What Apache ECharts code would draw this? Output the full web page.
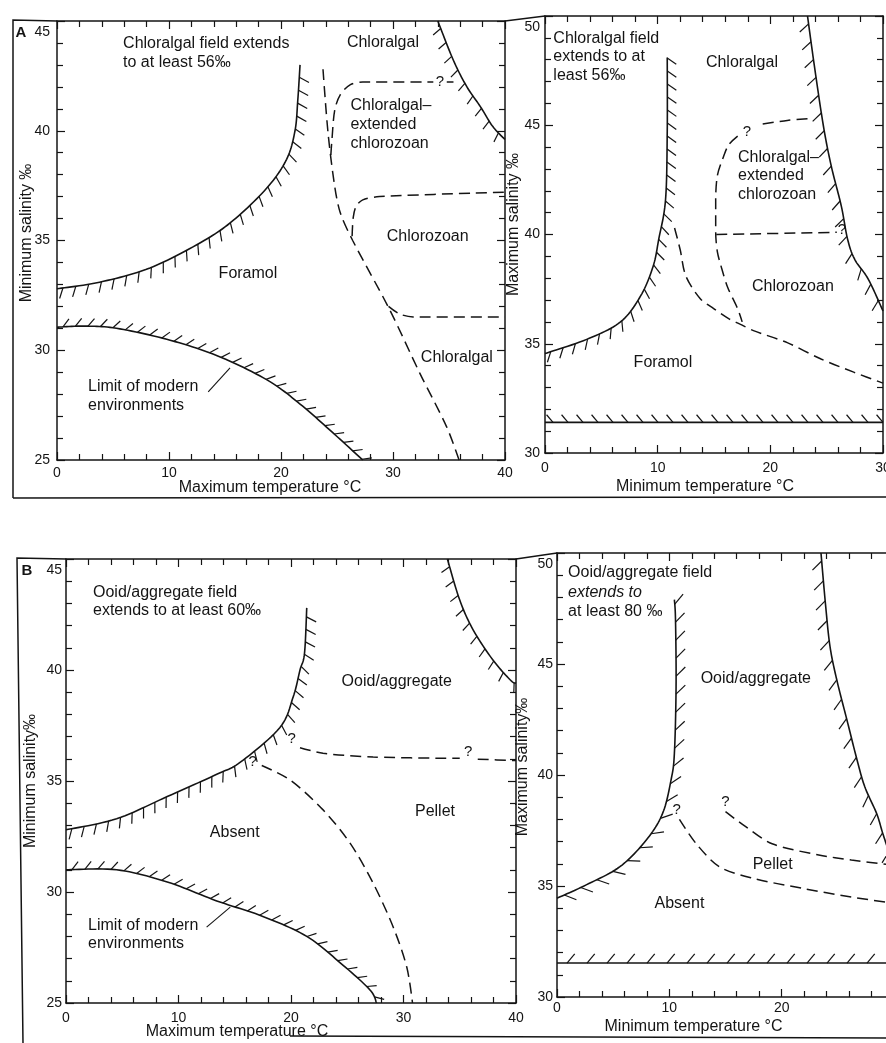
<!DOCTYPE html>
<html><head><meta charset="utf-8">
<script src="https://cdn.jsdelivr.net/npm/echarts@6/dist/echarts.min.js"></script>
<style>html,body{margin:0;padding:0;background:#fff}#c{width:886px;height:1043px}</style>
</head><body><div id="c"></div>
<script>
// ---------- axis ranges / tick labels ----------
const tempRangeL = [0, 40];
const tempRangeR = [0, 30];
const salRangeL = [25, 45];
const salRangeR = [30, 50];

// ---------- Panel A, left (max temperature vs min salinity) ----------
const aL_foramolLimit = [[0,32.8],[3.8,33.1],[8.3,33.75],[12.8,34.9],[15.7,35.9],[18.75,37.4],[20.5,38.7],[21.25,40.0],[21.5,41.4],[21.7,43.0]];
const aL_modernLimit = [[0,31.05],[2.5,31.1],[5.3,31.0],[9.8,30.5],[14.3,29.75],[18.75,28.65],[21.7,27.55],[24.5,26.3],[27.3,25.0]];
const aL_upperLimit = [[34.0,45],[35.4,43.2],[36.6,42.0],[37.8,41.1],[38.9,40.2],[40,39.6]];
const aL_dashMain = [[23.75,42.8],[24.2,39.9],[24.8,37.45],[25.3,36.25],[26.4,35.0],[29.7,31.85],[32.4,28.95],[34.8,26.5],[35.9,25.0]];
const aL_dashExtended = [[24.45,38.9],[24.55,39.6],[24.8,40.95],[25.3,41.65],[26.2,42.1],[27.3,42.22],[33.6,42.22]];
const aL_dashExtendedEnd = [[34.8,42.22],[35.4,42.22]];
const aL_dashChlorozoan = [[26.35,35.2],[26.45,36.05],[26.7,36.55],[27.3,36.85],[28.8,37.0],[40,37.2]];
const aL_dashChloralgal = [[29.6,32.0],[30.6,31.65],[31.8,31.52],[40,31.52]];
const aL_leader = [[13.5,28.1],[15.45,29.2]];
const aL_fieldLabels = [[29.1,44.0,'Chloralgal'],[33.1,35.16,'Chlorozoan'],[17.05,33.5,'Foramol'],[35.7,29.65,'Chloralgal']];
const aL_noteLabels = [[5.9,43.55,'Chloralgal field extends\nto at least 56‰'],[26.2,40.26,'Chloralgal–\nextended\nchlorozoan'],[2.77,27.9,'Limit of modern\nenvironments']];
const aL_queries = [[34.2,42.25,'?']];

// ---------- Panel A, right (min temperature vs max salinity) ----------
const aR_foramolLimit = [[0,34.55],[3.7,35.2],[6.7,36.0],[8.5,37.2],[9.6,38.55],[10.1,39.8],[10.7,41.6],[10.85,44.7],[10.85,48.1]];
const aR_upperLimit = [[23.3,50],[23.9,47.75],[24.7,45.0],[25.4,43.15],[26.3,41.3],[26.85,39.8],[27.5,38.85],[28.7,37.95],[30,36.5]];
const aR_lowerLimit = [[0,31.4],[30,31.4]];
const aR_dashForamol = [[11.5,40.3],[12.0,39.3],[12.5,38.1],[13.8,37.05],[15.0,36.6],[16.3,36.15],[17.5,35.85],[18.5,35.6],[21.5,35.05],[24.5,34.3],[27.4,33.7],[30,33.2]];
const aR_dashExtendedTop = [[23.3,45.3],[21.5,45.22],[19.2,45.05]];
const aR_dashExtendedSide = [[17.1,44.5],[16.3,44.1],[15.8,43.5],[15.3,42.7],[15.15,41.6],[15.15,40.1],[15.3,39.2],[15.6,38.6],[16.2,37.6],[17.1,36.6],[17.5,36.0]];
const aR_dashChlorozoan = [[15.2,40.0],[25.9,40.1]];
const aR_fieldLabels = [[17.48,47.85,'Chloralgal'],[22.0,37.6,'Chlorozoan'],[10.47,34.12,'Foramol']];
const aR_noteLabels = [[0.74,48.12,'Chloralgal field\nextends to at\nleast 56‰'],[17.13,42.68,'Chloralgal–\nextended\nchlorozoan']];
const aR_queries = [[17.92,44.69,'?'],[26.35,40.2,'?']];

// ---------- Panel B, left ----------
const bL_absentLimit = [[0,32.8],[4.5,33.3],[9.0,34.3],[13.4,35.3],[15.5,35.85],[19.0,37.4],[20.2,38.8],[20.8,40.0],[21.2,40.75],[21.4,42.8]];
const bL_modernLimit = [[0,31.0],[4.5,31.0],[9.0,30.45],[13.4,29.6],[17.5,28.9],[21.4,28.0],[24.4,26.8],[27.0,25.6],[27.6,25.0]];
const bL_upperLimit = [[33.9,45],[35.0,43.15],[36.2,41.8],[37.95,40.45],[39.5,39.55],[40,39.4]];
const bL_dashOoid = [[20.8,36.5],[22.85,36.25],[27.3,36.08],[35.0,36.02]];
const bL_dashOoidEnd = [[36.6,35.98],[40,35.92]];
const bL_dashPellet = [[17.4,35.7],[19.9,35.05],[22.85,33.7],[25.25,32.2],[27.3,30.4],[29.1,28.4],[30.3,26.6],[30.8,25.0]];
const bL_leader = [[12.5,28.42],[14.6,29.32]];
const bL_fieldLabels = [[29.4,39.46,'Ooid/aggregate'],[32.8,33.6,'Pellet'],[15.0,32.66,'Absent']];
const bL_noteLabels = [[2.4,43.1,'Ooid/aggregate field\nextends to at least 60‰'],[1.96,28.1,'Limit of modern\nenvironments']];
const bL_queries = [[20.06,36.92,'?'],[16.6,35.86,'?'],[35.75,36.3,'?']];

// ---------- Panel B, right ----------
const bR_absentLimit = [[0,34.45],[2.6,35.05],[5.6,35.87],[7.95,37.07],[9.4,38.27],[10.15,39.77],[10.45,40.98],[10.6,43.98],[10.55,46.98],[10.45,47.9]];
const bR_upperLimit = [[23.5,50],[23.9,47.7],[24.3,45.8],[24.9,44.3],[25.8,42.5],[26.7,40.7],[27.4,39.47],[28.45,38.27],[29.0,37.37],[29.7,36.3]];
const bR_lowerLimit = [[0,31.53],[30,31.53]];
const bR_dashAbsent = [[10.9,38.0],[12.4,36.9],[14.45,35.87],[17.4,35.35],[21.8,34.9],[26.2,34.5],[29.7,34.25]];
const bR_dashOoid = [[15.0,38.35],[16.8,37.67],[19.15,36.9],[23.3,36.4],[26.2,36.17],[29.7,35.95]];
const bR_fieldLabels = [[17.7,44.36,'Ooid/aggregate'],[19.2,35.95,'Pellet'],[10.9,34.2,'Absent']];
const bR_noteLabels = [[0.99,49.1,'Ooid/aggregate field'],[0.99,47.34,'at least 80 ‰']];
const bR_noteItalic = [[0.99,48.2,'extends to']];
const bR_queries = [[10.65,38.42,'?'],[15.0,38.8,'?']];

// ---------- drawing helpers ----------
const FONT = '"Liberation Sans", Arial, Helvetica, sans-serif';
const INK = '#141414';

function catmull(pts, n) {
  const out = [];
  for (let i = 0; i < pts.length - 1; i++) {
    const p0 = pts[Math.max(i - 1, 0)], p1 = pts[i], p2 = pts[i + 1], p3 = pts[Math.min(i + 2, pts.length - 1)];
    for (let k = 0; k < n; k++) {
      const t = k / n, t2 = t * t, t3 = t2 * t;
      const f = (a, b, c, d) => 0.5 * (2 * b + (-a + c) * t + (2 * a - 5 * b + 4 * c - d) * t2 + (-a + 3 * b - 3 * c + d) * t3);
      out.push([f(p0[0], p1[0], p2[0], p3[0]), f(p0[1], p1[1], p2[1], p3[1])]);
    }
  }
  out.push(pts[pts.length - 1]);
  return out;
}

function hatched(points, g, o) {
  return {
    type: 'custom', xAxisIndex: 2 * g, yAxisIndex: 2 * g, silent: true, clip: false, z: 4,
    data: [[points[0][0], points[0][1]]], encode: { x: 0, y: 1 },
    renderItem: (params, api) => {
      const pix = points.map(p => api.coord(p));
      const pts = catmull(pix, 12);
      const kids = [{ type: 'polyline', shape: { points: pts }, style: { stroke: INK, lineWidth: 1.6, fill: null } }];
      let travelled = 0, next = o.start;
      for (let i = 0; i < pts.length - 1; i++) {
        const a = pts[i], b = pts[i + 1], dx = b[0] - a[0], dy = b[1] - a[1], L = Math.hypot(dx, dy);
        if (!L) continue;
        const tx = dx / L, ty = dy / L, nx = o.side * ty, ny = -o.side * tx, r = o.lean * Math.PI / 180;
        const hx = Math.cos(r) * nx + Math.sin(r) * tx, hy = Math.cos(r) * ny + Math.sin(r) * ty;
        while (next <= travelled + L) {
          const s = (next - travelled) / L, x = a[0] + dx * s, y = a[1] + dy * s;
          kids.push({ type: 'line', shape: { x1: x, y1: y, x2: x + hx * o.len, y2: y + hy * o.len }, style: { stroke: INK, lineWidth: 1.2 } });
          next += o.gap;
        }
        travelled += L;
      }
      return { type: 'group', children: kids };
    }
  };
}

function dashed(points, g) {
  return { type: 'line', xAxisIndex: 2 * g, yAxisIndex: 2 * g, data: points, symbol: 'none', showSymbol: false,
    smooth: 0.3, silent: true, z: 3, lineStyle: { color: INK, width: 1.5, type: [11, 6] } };
}
function solid(points, g) {
  return { type: 'line', xAxisIndex: 2 * g, yAxisIndex: 2 * g, data: points, symbol: 'none', showSymbol: false,
    silent: true, z: 3, lineStyle: { color: INK, width: 1.1 } };
}
function labels(items, g, align, opt) {
  opt = opt || {};
  return {
    type: 'custom', xAxisIndex: 2 * g, yAxisIndex: 2 * g, silent: true, clip: false, z: 5,
    data: items.map(d => [d[0], d[1]]), encode: { x: 0, y: 1 },
    renderItem: (params, api) => {
      const d = items[params.dataIndex], p = api.coord([d[0], d[1]]);
      return { type: 'text', x: p[0], y: p[1], style: { text: d[2], fontFamily: FONT, fontSize: opt.size || 16,
        fontStyle: opt.italic ? 'italic' : 'normal', fill: INK, align: align, verticalAlign: 'middle', lineHeight: opt.lh || 19 } };
    }
  };
}

function axisBase(range, interval) {
  return {
    type: 'value', min: range[0], max: range[1], interval: interval, nameMoveOverlap: false,
    axisLine: { show: true, onZero: false, lineStyle: { color: INK, width: 1.5 } },
    axisTick: { show: true, inside: true, length: 8, lineStyle: { color: INK, width: 1.2 } },
    minorTick: { show: true, splitNumber: 5, length: 6, lineStyle: { color: INK, width: 1.2 } },
    splitLine: { show: false }, minorSplitLine: { show: false },
    axisLabel: { show: false }
  };
}
function xBottom(g, range, name, gap, shift, margin) {
  return Object.assign(axisBase(range, 10), {
    gridIndex: g, position: 'bottom', name: name, nameLocation: 'middle', nameGap: gap,
    nameTextStyle: { fontFamily: FONT, fontSize: 16, color: INK, padding: [0, shift, 0, 0] },
    axisLabel: { show: true, margin: margin, fontFamily: FONT, fontSize: 14, color: INK, showMinLabel: true, showMaxLabel: true }
  });
}
function xTop(g, range) { return Object.assign(axisBase(range, 10), { gridIndex: g, position: 'top' }); }
function yLeft(g, range, name, gap, shift, margin) {
  const top = range[1];
  return Object.assign(axisBase(range, 5), {
    gridIndex: g, position: 'left', name: name, nameLocation: 'middle', nameGap: gap, nameRotate: 90,
    nameTextStyle: { fontFamily: FONT, fontSize: 16, color: INK, padding: [0, 0, 0, shift] },
    axisLabel: { show: true, margin: margin, fontFamily: FONT, fontSize: 14, color: INK, lineHeight: 22,
      showMinLabel: true, showMaxLabel: true, formatter: v => (v === top ? '\n' + v : String(v)) }
  });
}
function yRight(g, range) { return Object.assign(axisBase(range, 5), { gridIndex: g, position: 'right' }); }

const frame = { stroke: INK, lineWidth: 1.5, fill: null };
const gridBase = { outerBoundsMode: 'none', containLabel: false };

const option = {
  animation: false,
  backgroundColor: '#fff',
  textStyle: { fontFamily: FONT },
  grid: [
    Object.assign({ left: 57, top: 21, width: 448, height: 439 }, gridBase),
    Object.assign({ left: 545, top: 16, width: 338, height: 437 }, gridBase),
    Object.assign({ left: 66, top: 559, width: 450, height: 444 }, gridBase),
    Object.assign({ left: 557, top: 553, width: 337, height: 444 }, gridBase)
  ],
  xAxis: [
    xBottom(0, tempRangeL, 'Maximum temperature °C', 20, 22, 6), xTop(0, tempRangeL),
    xBottom(1, tempRangeR, 'Minimum temperature °C', 26, 18, 8), xTop(1, tempRangeR),
    xBottom(2, tempRangeL, 'Maximum temperature °C', 21, 108, 8), xTop(2, tempRangeL),
    xBottom(3, tempRangeR, 'Minimum temperature °C', 22, 64, 4), xTop(3, tempRangeR)
  ],
  yAxis: [
    yLeft(0, salRangeL, 'Minimum salinity ‰', 22, 15, 7), yRight(0, salRangeL),
    yLeft(1, salRangeR, 'Maximum salinity ‰', 23, 20, 5), yRight(1, salRangeR),
    yLeft(2, salRangeL, 'Minimum salinity‰', 27, 0, 4), yRight(2, salRangeL),
    yLeft(3, salRangeR, 'Maximum salinity‰', 26, 16, 4), yRight(3, salRangeR)
  ],
  graphic: [
    { type: 'polyline', shape: { points: [[13, 498], [13, 20], [57, 21]] }, style: frame },
    { type: 'line', shape: { x1: 505, y1: 21, x2: 545, y2: 16 }, style: frame },
    { type: 'line', shape: { x1: 13, y1: 498, x2: 886, y2: 497 }, style: frame },
    { type: 'text', x: 21, y: 33, style: { text: 'A', font: 'bold 15px ' + FONT, fill: INK, align: 'center', verticalAlign: 'middle' } },
    { type: 'polyline', shape: { points: [[23, 1043], [17, 558], [66, 559]] }, style: frame },
    { type: 'line', shape: { x1: 516, y1: 559, x2: 557, y2: 553 }, style: frame },
    { type: 'line', shape: { x1: 290, y1: 1036, x2: 886, y2: 1038 }, style: frame },
    { type: 'text', x: 27, y: 571, style: { text: 'B', font: 'bold 15px ' + FONT, fill: INK, align: 'center', verticalAlign: 'middle' } }
  ],
  series: [
    // A left
    hatched(aL_foramolLimit, 0, { side: -1, lean: -25, len: 11, gap: 13, start: 6 }),
    hatched(aL_modernLimit, 0, { side: 1, lean: 40, len: 10, gap: 12.5, start: 6 }),
    hatched(aL_upperLimit, 0, { side: -1, lean: 20, len: 10, gap: 15, start: 8 }),
    dashed(aL_dashMain, 0), dashed(aL_dashExtended, 0), dashed(aL_dashExtendedEnd, 0),
    dashed(aL_dashChlorozoan, 0), dashed(aL_dashChloralgal, 0), solid(aL_leader, 0),
    labels(aL_fieldLabels, 0, 'center'), labels(aL_noteLabels, 0, 'left'), labels(aL_queries, 0, 'center', { size: 15 }),
    // A right
    hatched(aR_foramolLimit, 1, { side: -1, lean: -35, len: 11, gap: 13, start: 6 }),
    hatched(aR_upperLimit, 1, { side: -1, lean: 35, len: 12, gap: 18, start: 8 }),
    hatched(aR_lowerLimit, 1, { side: 1, lean: -40, len: 10, gap: 15, start: 8 }),
    dashed(aR_dashForamol, 1), dashed(aR_dashExtendedTop, 1), dashed(aR_dashExtendedSide, 1), dashed(aR_dashChlorozoan, 1),
    labels(aR_fieldLabels, 1, 'center'), labels(aR_noteLabels, 1, 'left', { lh: 18.5 }), labels(aR_queries, 1, 'center', { size: 15 }),
    // B left
    hatched(bL_absentLimit, 2, { side: -1, lean: -25, len: 11, gap: 12.5, start: 6 }),
    hatched(bL_modernLimit, 2, { side: 1, lean: 40, len: 10, gap: 13, start: 6 }),
    hatched(bL_upperLimit, 2, { side: -1, lean: 20, len: 10, gap: 15, start: 8 }),
    dashed(bL_dashOoid, 2), dashed(bL_dashOoidEnd, 2), dashed(bL_dashPellet, 2), solid(bL_leader, 2),
    labels(bL_fieldLabels, 2, 'center'), labels(bL_noteLabels, 2, 'left', { lh: 18 }), labels(bL_queries, 2, 'center', { size: 15 }),
    // B right
    hatched(bR_absentLimit, 3, { side: -1, lean: 45, len: 13, gap: 18, start: 8 }),
    hatched(bR_upperLimit, 3, { side: -1, lean: 40, len: 13, gap: 20, start: 8 }),
    hatched(bR_lowerLimit, 3, { side: 1, lean: 40, len: 12, gap: 20, start: 10 }),
    dashed(bR_dashAbsent, 3), dashed(bR_dashOoid, 3),
    labels(bR_fieldLabels, 3, 'center'), labels(bR_noteLabels, 3, 'left'), labels(bR_noteItalic, 3, 'left', { italic: true }),
    labels(bR_queries, 3, 'center', { size: 15 })
  ]
};

const chart = echarts.init(document.getElementById('c'), null, { renderer: 'canvas' });
chart.setOption(option);
</script></body></html>
